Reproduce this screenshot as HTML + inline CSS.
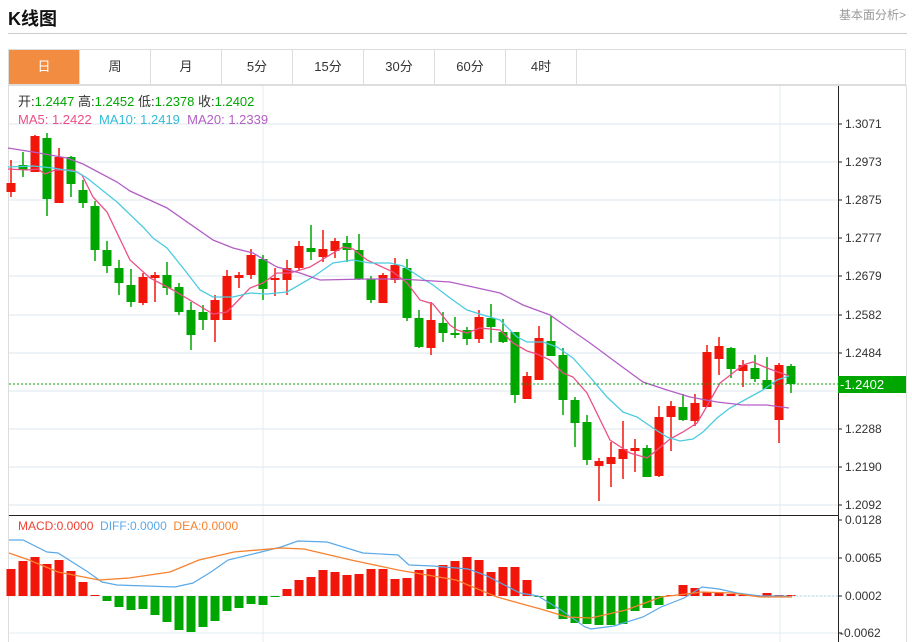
<!DOCTYPE html>
<html><head><meta charset="utf-8"><style>
body{margin:0;background:#fff;width:912px;height:642px;overflow:hidden;font-family:"Liberation Sans","Noto Sans CJK SC",sans-serif;position:relative}
.t{position:absolute;left:8px;top:5px;font-size:18px;font-weight:bold;color:#111}
.r{position:absolute;right:6px;top:6px;font-size:12px;color:#999}
.hl{position:absolute;left:8px;top:33px;width:899px;height:1px;background:#ccc}
.tabs{position:absolute;left:8px;top:49px;width:898px;height:36px;border:1px solid #ddd;display:flex;box-sizing:border-box}
.tabs div{width:70px;border-right:1px solid #ddd;text-align:center;line-height:34px;font-size:13px;color:#333}
.tabs div.a{background:#f28c40;color:#fff}
svg{position:absolute;left:0;top:0}
</style></head><body>
<div class="t">K线图</div><div class="r">基本面分析&gt;</div><div class="hl"></div>
<div class="tabs"><div class="a">日</div><div>周</div><div>月</div><div>5分</div><div>15分</div><div>30分</div><div>60分</div><div>4时</div></div>
<svg id="s" width="912" height="642" xmlns="http://www.w3.org/2000/svg" font-family="Liberation Sans, Noto Sans CJK SC, sans-serif"></svg>
<script>
var s=document.getElementById('s'),h='';
h+='<rect x="8.5" y="85.5" width="898" height="560" fill="none" stroke="#ddd"/>';
[124,162,200,238,276,315,353,391,429,467,505].forEach(function(y){h+='<line x1="9" x2="838" y1="'+y+'" y2="'+y+'" stroke="#e3ecf2" stroke-width="1.2"/>'});
[558,596,633].forEach(function(y){h+='<line x1="9" x2="838" y1="'+y+'" y2="'+y+'" stroke="#e3ecf2"/>'});
[263,780].forEach(function(x){h+='<line x1="'+x+'" x2="'+x+'" y1="86" y2="642" stroke="#e3ecf2"/>'});
h+='<line x1="838.5" x2="838.5" y1="86" y2="642" stroke="#222"/><line x1="9" x2="838" y1="515.5" y2="515.5" stroke="#222"/>';
var lab=[[124,'1.3071'],[162,'1.2973'],[200,'1.2875'],[238,'1.2777'],[276,'1.2679'],[315,'1.2582'],[353,'1.2484'],[429,'1.2288'],[467,'1.2190'],[505,'1.2092'],[520,'0.0128'],[558,'0.0065'],[596,'0.0002'],[633,'-0.0062']];
lab.forEach(function(l){h+='<line x1="838" x2="842" y1="'+l[0]+'" y2="'+l[0]+'" stroke="#222"/><text x="'+(l[1][0]=='-'?840:845)+'" y="'+(l[0]+4)+'" font-size="12" fill="#333">'+(l[1][0]=='-'?'-':'')+l[1].replace('-','')+'</text>'});
var C=[[183,192,160,197,'r'],[165,170,152,177,'g'],[136,172,135,172,'r'],[138,199,133,216,'g'],[157,203,148,203,'r'],[157,184,156,197,'g'],[190,203,180,208,'g'],[206,250,201,261,'g'],[250,266,241,273,'g'],[268,283,260,295,'g'],[285,302,269,307,'g'],[277,303,273,305,'r'],[275,278,272,302,'r'],[275,288,262,295,'g'],[287,312,283,315,'g'],[310,335,302,350,'g'],[312,320,305,330,'g'],[300,320,295,342,'r'],[276,320,270,320,'r'],[275,278,272,288,'r'],[255,275,249,279,'r'],[259,289,255,300,'g'],[278,280,268,296,'r'],[268,280,260,295,'r'],[246,268,241,270,'r'],[248,252,225,260,'g'],[249,257,230,262,'r'],[241,251,238,258,'r'],[243,250,236,262,'g'],[250,279,234,280,'g'],[279,300,276,303,'g'],[275,303,273,303,'r'],[265,280,258,283,'r'],[268,318,259,321,'g'],[318,347,310,348,'g'],[320,348,302,355,'r'],[323,333,312,342,'g'],[333,335,317,338,'g'],[330,339,327,345,'g'],[317,339,310,343,'r'],[318,327,304,343,'g'],[332,342,319,343,'g'],[332,395,332,403,'g'],[376,399,372,399,'r'],[338,380,326,380,'r'],[341,356,316,356,'g'],[355,400,348,415,'g'],[400,423,397,447,'g'],[422,460,415,465,'g'],[461,466,458,501,'r'],[457,464,442,487,'r'],[449,459,421,479,'r'],[448,451,439,472,'r'],[448,477,445,477,'g'],[417,476,406,477,'r'],[406,417,401,451,'r'],[407,420,394,421,'g'],[403,421,394,426,'r'],[352,407,345,407,'r'],[346,359,337,375,'r'],[348,369,347,378,'g'],[365,371,360,387,'r'],[368,379,355,382,'g'],[380,389,357,389,'g'],[365,420,363,443,'r'],[366,384,364,393,'g']];
C.forEach(function(c,i){var x=11+12*i,col=c[4]=='r'?'#f2150a':'#00a600';h+='<line x1="'+x+'" x2="'+x+'" y1="'+c[2]+'" y2="'+c[3]+'" stroke="'+col+'" stroke-width="1.5"/><rect x="'+(x-4.5)+'" y="'+c[0]+'" width="9" height="'+Math.max(2,c[1]-c[0])+'" fill="'+col+'"/>'});
function pl(p,c,w){h+='<polyline fill="none" stroke="'+c+'" stroke-width="'+(w||1.3)+'" points="'+p+'"/>'}
pl('8,169 27,170 38,169 45,174 55,170 73,170 82,175 93,197 107,212 130,260 150,278 173,290 213,314 227,312 250,288 263,283 277,273 290,273 310,267 343,247 353,249 367,260 393,272 407,283 420,300 433,304 450,325 457,330 467,333 480,328 500,330 513,343 527,351 537,354 550,360 563,373 573,377 587,393 610,440 630,453 647,458 657,450 670,439 683,432 697,423 703,413 720,383 733,373 743,365 753,362 767,368 789,376','#ec4f86');
pl('8,167 33,166 53,168 77,172 87,178 117,202 143,227 153,238 167,248 187,273 200,290 213,297 233,297 250,293 267,294 287,292 313,277 333,263 353,260 370,263 390,263 403,266 420,277 433,285 450,298 467,310 483,315 500,320 517,337 527,342 543,342 557,347 573,358 590,377 607,397 623,412 637,417 653,428 667,437 680,441 693,439 703,432 717,418 730,408 750,397 763,390 777,380 789,376','#4ccbe0');
pl('8,148 33,152 67,158 83,164 117,182 130,191 167,208 213,240 233,248 253,253 277,267 300,273 320,280 367,279 400,279 450,282 473,287 500,293 523,305 550,315 567,327 590,343 617,363 643,382 667,390 690,397 717,402 743,405 767,405 789,408','#b35ec6');
h+='<line x1="9" x2="838" y1="384" y2="384" stroke="#00a600" stroke-dasharray="2,2"/><rect x="838" y="376" width="68" height="17" fill="#00a600"/><text x="840" y="389" font-size="13" fill="#fff">-1.2402</text>';
var M=[27,35,39,32,36,25,14,1,-5,-11,-14,-13,-19,-26,-34,-36,-31,-25,-15,-12,-8,-9,-1,7,16,19,26,24,21,22,27,27,17,18,26,27,31,35,39,36,24,29,29,16,-1,-13,-23,-27,-28,-29,-29,-28,-15,-12,-9,1,11,8,4,4,2,1,1,3,1,1];
M.forEach(function(v,i){var x=11+12*i;h+='<rect x="'+(x-4.5)+'" y="'+(v>0?596-v:596)+'" width="9" height="'+Math.max(1,Math.abs(v))+'" fill="'+(v>0?'#f2150a':'#00a600')+'"/>'});
h+='<line x1="792" x2="838" y1="596" y2="596" stroke="#a8d8ea" stroke-dasharray="2,2"/>';
pl('9,540 23,540 47,552 58,553 88,572 102,582 117,585 146,586 175,587 193,583 211,572 228,560 257,553 281,547 298,541 327,542 363,553 398,555 409,565 433,566 468,569 485,575 520,593 538,596 561,610 585,627 591,629 614,626 643,617 661,607 684,598 702,587 719,589 737,593 760,596 784,596 792,597','#5aa9e8',1.2);
pl('9,553 29,560 58,572 99,580 129,578 170,572 199,560 234,552 281,548 304,549 351,560 398,570 456,580 497,597 544,610 567,617 591,618 626,610 661,597 702,592 731,593 760,597 792,597','#f6822f',1.3);
h+='<text x="18" y="106" font-size="13" fill="#333">开:<tspan fill="#00a600">1.2447</tspan>  高:<tspan fill="#00a600">1.2452</tspan>  低:<tspan fill="#00a600">1.2378</tspan>  收:<tspan fill="#00a600">1.2402</tspan></text>';
h+='<text x="18" y="124" font-size="13" xml:space="preserve"><tspan fill="#ec4f86">MA5: 1.2422</tspan>  <tspan fill="#33bcd6">MA10: 1.2419</tspan>  <tspan fill="#b35ec6">MA20: 1.2339</tspan></text>';
h+='<text x="18" y="530" font-size="12" xml:space="preserve"><tspan fill="#f04030">MACD:0.0000</tspan>  <tspan fill="#5aa9e8">DIFF:0.0000</tspan>  <tspan fill="#f6822f">DEA:0.0000</tspan></text>';
s.innerHTML=h;
</script>
</body></html>
